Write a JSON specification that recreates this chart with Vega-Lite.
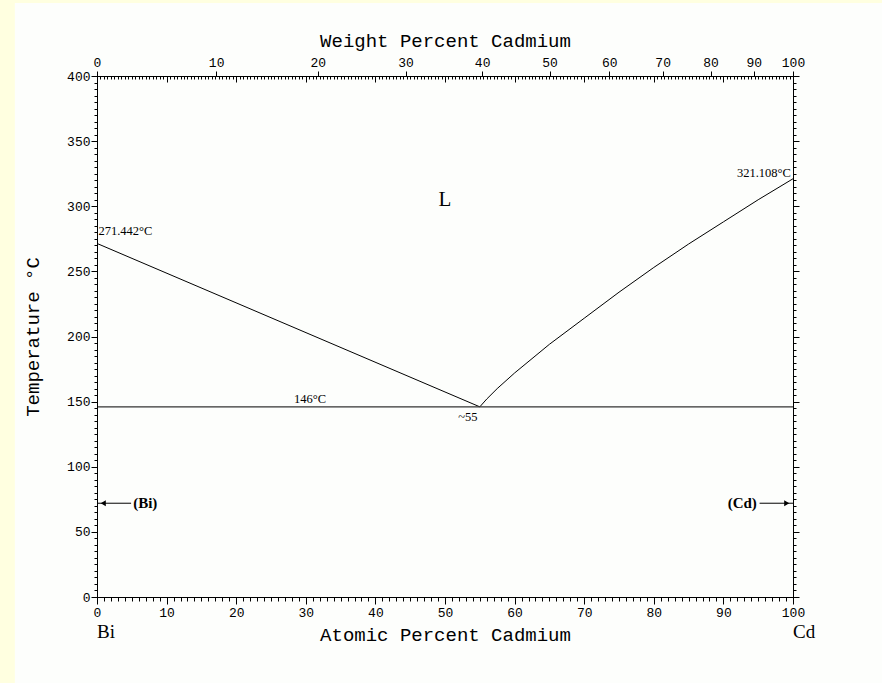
{
  "$schema": "https://vega.github.io/schema/vega-lite/v6.json",
  "width": 696,
  "height": 521,
  "autosize": {"type": "none"},
  "padding": {"left": 97, "top": 76, "right": 89, "bottom": 86},
  "background": "#FFFFE0",
  "config": {
    "view": {"stroke": null},
    "axis": {
      "grid": false,
      "domainColor": "#000000",
      "tickColor": "#000000",
      "labelColor": "#000000",
      "titleColor": "#000000",
      "labelFont": "Liberation Mono",
      "labelFontSize": 13,
      "titleFont": "Liberation Mono",
      "titleFontSize": 19,
      "titleFontWeight": "normal",
      "labelFlush": false,
      "labelOverlap": false,
      "domainWidth": 1,
      "tickWidth": 1
    }
  },
  "datasets": {
    "curves": [
      {"series": "liquidus Bi side", "at": 0, "T": 271.442},
      {"series": "liquidus Bi side", "at": 55, "T": 146},
      {"series": "liquidus Cd side", "at": 55, "T": 146},
      {"series": "liquidus Cd side", "at": 56, "T": 152},
      {"series": "liquidus Cd side", "at": 57.5, "T": 160},
      {"series": "liquidus Cd side", "at": 60, "T": 172},
      {"series": "liquidus Cd side", "at": 62.5, "T": 183},
      {"series": "liquidus Cd side", "at": 65, "T": 194},
      {"series": "liquidus Cd side", "at": 70, "T": 214},
      {"series": "liquidus Cd side", "at": 75, "T": 234},
      {"series": "liquidus Cd side", "at": 80, "T": 253},
      {"series": "liquidus Cd side", "at": 85, "T": 271},
      {"series": "liquidus Cd side", "at": 90, "T": 288},
      {"series": "liquidus Cd side", "at": 95, "T": 305},
      {"series": "liquidus Cd side", "at": 100, "T": 321.108},
      {"series": "eutectic", "at": 0, "T": 146},
      {"series": "eutectic", "at": 100, "T": 146}
    ],
    "labels": [
      {"kind": "melt_Bi", "label": "271.442°C", "at": 0.2, "T": 276},
      {"kind": "melt_Cd", "label": "321.108°C", "at": 99.7, "T": 325.5},
      {"kind": "eutectic", "label": "146°C", "at": 30.6, "T": 152},
      {"kind": "eutectic", "label": "~55", "at": 53.3, "T": 138},
      {"kind": "phase", "label": "L", "at": 50, "T": 305},
      {"kind": "solid_Bi", "label": "(Bi)", "at": 5.2, "T": 72},
      {"kind": "solid_Cd", "label": "(Cd)", "at": 94.8, "T": 72},
      {"kind": "element", "label": "Bi", "at": 0, "T": -27},
      {"kind": "element", "label": "Cd", "at": 100, "T": -27}
    ],
    "arrows": [
      {"phase": "Bi", "from": 0, "to": 4.9, "head": 0.9, "T": 72},
      {"phase": "Cd", "from": 95.2, "to": 100, "head": 99.1, "T": 72}
    ]
  },
  "resolve": {"scale": {"x": "independent", "y": "independent"}},
  "layer": [
    {
      "data": {"values": [{}]},
      "mark": {"type": "rect", "fill": "#FDFEFC"},
      "encoding": {
        "x": {"datum": -11.8, "type": "quantitative", "scale": {"domain": [0, 100], "nice": false, "zero": false}, "axis": null},
        "x2": {"datum": 115},
        "y": {"datum": 456, "type": "quantitative", "scale": {"domain": [0, 400], "nice": false}, "axis": null},
        "y2": {"datum": -80}
      }
    },
    {
      "layer": [
        {
          "data": {"name": "curves"},
          "transform": [{"filter": "datum.series !== 'eutectic'"}],
          "mark": {"type": "line", "color": "#000000", "strokeWidth": 1},
          "encoding": {
            "x": {
              "field": "at", "type": "quantitative",
              "scale": {"domain": [0, 100], "nice": false, "zero": false},
              "axis": {
                "zindex": 1,
                "orient": "bottom",
                "values": [0,10,20,30,40,50,60,70,80,90,100],
                "tickSize": 7,
                "labelPadding": 2,
                "title": "Atomic Percent Cadmium",
                "titlePadding": 6
              }
            },
            "y": {
              "field": "T", "type": "quantitative",
              "scale": {"domain": [0, 400], "nice": false},
              "axis": {
                "zindex": 1,
                "orient": "left",
                "values": [0,50,100,150,200,250,300,350,400],
                "tickSize": 6,
                "labelPadding": 1,
                "title": "Temperature °C",
                "titlePadding": 24
              }
            },
            "detail": {"field": "series"}
          }
        },
        {
          "data": {"name": "curves"},
          "transform": [{"filter": "datum.series === 'eutectic'"}],
          "mark": {"type": "line", "color": "#333333", "strokeWidth": 1.3},
          "encoding": {
            "x": {"field": "at", "type": "quantitative"},
            "y": {"field": "T", "type": "quantitative"}
          }
        },
        {
          "data": {"name": "labels"},
          "transform": [{"filter": {"field": "kind", "oneOf": ["melt_Bi"]}}],
          "mark": {"type": "text", "align": "left", "baseline": "bottom", "font": "Liberation Serif", "fontSize": 12.5, "color": "#000000"},
          "encoding": {
            "x": {"field": "at", "type": "quantitative"},
            "y": {"field": "T", "type": "quantitative"},
            "text": {"field": "label"}
          }
        },
        {
          "data": {"name": "labels"},
          "transform": [{"filter": {"field": "kind", "oneOf": ["melt_Cd"]}}],
          "mark": {"type": "text", "align": "right", "baseline": "middle", "font": "Liberation Serif", "fontSize": 12.5, "color": "#000000"},
          "encoding": {
            "x": {"field": "at", "type": "quantitative"},
            "y": {"field": "T", "type": "quantitative"},
            "text": {"field": "label"}
          }
        },
        {
          "data": {"name": "labels"},
          "transform": [{"filter": {"field": "kind", "oneOf": ["eutectic"]}}],
          "mark": {"type": "text", "align": "center", "baseline": "middle", "font": "Liberation Serif", "fontSize": 12.5, "color": "#000000"},
          "encoding": {
            "x": {"field": "at", "type": "quantitative"},
            "y": {"field": "T", "type": "quantitative"},
            "text": {"field": "label"}
          }
        },
        {
          "data": {"name": "labels"},
          "transform": [{"filter": {"field": "kind", "oneOf": ["phase"]}}],
          "mark": {"type": "text", "align": "center", "baseline": "middle", "font": "Liberation Serif", "fontSize": 21, "color": "#000000"},
          "encoding": {
            "x": {"field": "at", "type": "quantitative"},
            "y": {"field": "T", "type": "quantitative"},
            "text": {"field": "label"}
          }
        },
        {
          "data": {"name": "labels"},
          "transform": [{"filter": {"field": "kind", "oneOf": ["solid_Bi"]}}],
          "mark": {"type": "text", "align": "left", "baseline": "middle", "font": "Liberation Serif", "fontSize": 15, "fontWeight": "bold", "color": "#000000"},
          "encoding": {
            "x": {"field": "at", "type": "quantitative"},
            "y": {"field": "T", "type": "quantitative"},
            "text": {"field": "label"}
          }
        },
        {
          "data": {"name": "labels"},
          "transform": [{"filter": {"field": "kind", "oneOf": ["solid_Cd"]}}],
          "mark": {"type": "text", "align": "right", "baseline": "middle", "font": "Liberation Serif", "fontSize": 15, "fontWeight": "bold", "color": "#000000"},
          "encoding": {
            "x": {"field": "at", "type": "quantitative"},
            "y": {"field": "T", "type": "quantitative"},
            "text": {"field": "label"}
          }
        },
        {
          "data": {"name": "labels"},
          "transform": [{"filter": {"field": "kind", "oneOf": ["element"]}}],
          "mark": {"type": "text", "align": "left", "baseline": "middle", "font": "Liberation Serif", "fontSize": 19, "color": "#000000"},
          "encoding": {
            "x": {"field": "at", "type": "quantitative"},
            "y": {"field": "T", "type": "quantitative"},
            "text": {"field": "label"}
          }
        },
        {
          "data": {"name": "arrows"},
          "mark": {"type": "rule", "color": "#000000", "strokeWidth": 1},
          "encoding": {
            "x": {"field": "from", "type": "quantitative"},
            "x2": {"field": "to"},
            "y": {"field": "T", "type": "quantitative"}
          }
        },
        {
          "data": {"name": "arrows"},
          "transform": [{"filter": "datum.phase === 'Bi'"}],
          "mark": {"type": "point", "shape": "triangle-left", "filled": true, "color": "#000000", "size": 35, "opacity": 1},
          "encoding": {
            "x": {"field": "head", "type": "quantitative"},
            "y": {"field": "T", "type": "quantitative"}
          }
        },
        {
          "data": {"name": "arrows"},
          "transform": [{"filter": "datum.phase === 'Cd'"}],
          "mark": {"type": "point", "shape": "triangle-right", "filled": true, "color": "#000000", "size": 35, "opacity": 1},
          "encoding": {
            "x": {"field": "head", "type": "quantitative"},
            "y": {"field": "T", "type": "quantitative"}
          }
        }
      ]
    },
    {
      "data": {"name": "curves"},
      "mark": {"type": "line", "opacity": 0},
      "encoding": {
        "x": {
          "field": "at", "type": "quantitative",
          "scale": {"domain": [0, 100], "nice": false, "zero": false},
          "axis": {
            "zindex": 1,
            "orient": "bottom",
            "values": [0,1,2,3,4,5,6,7,8,9,10,11,12,13,14,15,16,17,18,19,20,21,22,23,24,25,26,27,28,29,30,31,32,33,34,35,36,37,38,39,40,41,42,43,44,45,46,47,48,49,50,51,52,53,54,55,56,57,58,59,60,61,62,63,64,65,66,67,68,69,70,71,72,73,74,75,76,77,78,79,80,81,82,83,84,85,86,87,88,89,90,91,92,93,94,95,96,97,98,99,100],
            "tickSize": 4,
            "labels": false,
            "title": null
          }
        },
        "y": {
          "field": "T", "type": "quantitative",
          "scale": {"domain": [0, 400], "nice": false},
          "axis": {
            "zindex": 1,
            "orient": "left",
            "values": [0,5,10,15,20,25,30,35,40,45,50,55,60,65,70,75,80,85,90,95,100,105,110,115,120,125,130,135,140,145,150,155,160,165,170,175,180,185,190,195,200,205,210,215,220,225,230,235,240,245,250,255,260,265,270,275,280,285,290,295,300,305,310,315,320,325,330,335,340,345,350,355,360,365,370,375,380,385,390,395,400],
            "tickSize": 3,
            "labels": false,
            "title": null
          }
        },
        "detail": {"field": "series"}
      }
    },
    {
      "data": {"name": "curves"},
      "mark": {"type": "line", "opacity": 0},
      "encoding": {
        "x": {
          "field": "at", "type": "quantitative",
          "scale": {"domain": [0, 100], "nice": false, "zero": false},
          "axis": {
            "zindex": 1,
            "orient": "top",
            "values": [0, 17.12, 31.73, 44.34, 55.34, 65.02, 73.60, 81.27, 88.15, 94.36, 100],
            "tickSize": 5,
            "labelPadding": 2,
            "labelExpr": "round(100*datum.value*112.41/(datum.value*112.41+(100-datum.value)*208.98))",
            "title": "Weight Percent Cadmium",
            "titlePadding": 6
          }
        },
        "y": {
          "field": "T", "type": "quantitative",
          "scale": {"domain": [0, 400], "nice": false},
          "axis": {
            "zindex": 1,
            "orient": "right",
            "values": [0,50,100,150,200,250,300,350,400],
            "tickSize": 6,
            "labels": false,
            "title": null
          }
        },
        "detail": {"field": "series"}
      }
    },
    {
      "data": {"name": "curves"},
      "mark": {"type": "line", "opacity": 0},
      "encoding": {
        "x": {
          "field": "at", "type": "quantitative",
          "scale": {"domain": [0, 100], "nice": false, "zero": false},
          "axis": {
            "zindex": 1,
            "orient": "top",
            "offset": -3,
            "domain": false,
            "values": [0,0.5,1,1.5,2,2.5,3,3.5,4,4.5,5,5.5,6,6.5,7,7.5,8,8.5,9,9.5,10,10.5,11,11.5,12,12.5,13,13.5,14,14.5,15,15.5,16,16.5,17,17.5,18,18.5,19,19.5,20,20.5,21,21.5,22,22.5,23,23.5,24,24.5,25,25.5,26,26.5,27,27.5,28,28.5,29,29.5,30,30.5,31,31.5,32,32.5,33,33.5,34,34.5,35,35.5,36,36.5,37,37.5,38,38.5,39,39.5,40,40.5,41,41.5,42,42.5,43,43.5,44,44.5,45,45.5,46,46.5,47,47.5,48,48.5,49,49.5,50,50.5,51,51.5,52,52.5,53,53.5,54,54.5,55,55.5,56,56.5,57,57.5,58,58.5,59,59.5,60,60.5,61,61.5,62,62.5,63,63.5,64,64.5,65,65.5,66,66.5,67,67.5,68,68.5,69,69.5,70,70.5,71,71.5,72,72.5,73,73.5,74,74.5,75,75.5,76,76.5,77,77.5,78,78.5,79,79.5,80,80.5,81,81.5,82,82.5,83,83.5,84,84.5,85,85.5,86,86.5,87,87.5,88,88.5,89,89.5,90,90.5,91,91.5,92,92.5,93,93.5,94,94.5,95,95.5,96,96.5,97,97.5,98,98.5,99,99.5,100],
            "tickSize": 3,
            "labels": false,
            "title": null
          }
        },
        "y": {
          "field": "T", "type": "quantitative",
          "scale": {"domain": [0, 400], "nice": false},
          "axis": {
            "zindex": 1,
            "orient": "right",
            "values": [0,5,10,15,20,25,30,35,40,45,50,55,60,65,70,75,80,85,90,95,100,105,110,115,120,125,130,135,140,145,150,155,160,165,170,175,180,185,190,195,200,205,210,215,220,225,230,235,240,245,250,255,260,265,270,275,280,285,290,295,300,305,310,315,320,325,330,335,340,345,350,355,360,365,370,375,380,385,390,395,400],
            "tickSize": 3,
            "labels": false,
            "title": null
          }
        },
        "detail": {"field": "series"}
      }
    },
    {
      "data": {"name": "curves"},
      "mark": {"type": "line", "opacity": 0},
      "encoding": {
        "x": {
          "field": "at", "type": "quantitative",
          "scale": {"domain": [0, 100], "nice": false, "zero": false},
          "axis": {
            "zindex": 1,
            "orient": "top",
            "offset": -6,
            "domain": false,
            "values": [10,20,30,40,50,60,70,80,90],
            "tickSize": 6,
            "labels": false,
            "title": null
          }
        },
        "y": {
          "field": "T", "type": "quantitative",
          "scale": {"domain": [0, 400], "nice": false},
          "axis": null
        },
        "detail": {"field": "series"}
      }
    }
  ]
}
